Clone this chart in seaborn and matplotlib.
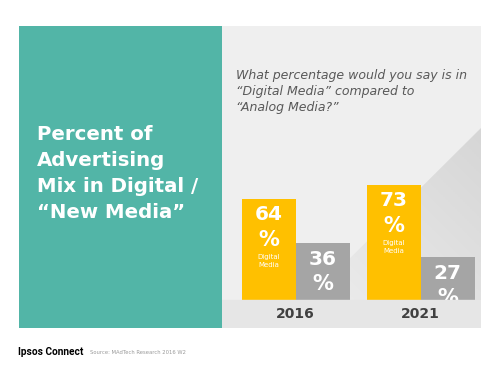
import numpy as np
import pandas as pd
import matplotlib
matplotlib.use("Agg")
import matplotlib.pyplot as plt
from matplotlib.patches import Rectangle, Polygon
import seaborn as sns

# ---- data ----
years = ["2016", "2021"]
digital = [64, 73]
analog = [36, 27]
media = ["Digital", "Analog"]
title_lines = ["Percent of", "Advertising", "Mix in Digital /", "\u201cNew Media\u201d"]
question = "What percentage would you say is in\n\u201cDigital Media\u201d compared to\n\u201cAnalog Media?\u201d"
brand = "Ipsos Connect"
source = "Source: MAdTech Research 2016 W2"

YELLOW = "#FFC000"
GREY = "#A5A5A5"
TEAL = "#52B5A7"

sns.set_theme(style="white")
plt.rcParams["font.family"] = ["DejaVu Sans"]

W, H = 500, 375
fig = plt.figure(figsize=(5, 3.75), dpi=100)
fig.patch.set_facecolor("white")

def fx(x):
    return x / W

def fy(y):
    return 1 - y / H

# teal panel
fig.add_artist(Rectangle((fx(19), fy(328)), fx(222) - fx(19), fy(26) - fy(328),
                         transform=fig.transFigure, facecolor=TEAL, edgecolor="none", zorder=-1))
for i, line in enumerate(title_lines):
    fig.text(fx(37), fy(135 + i * 26), line, color="white", fontsize=14.2,
             fontweight="bold", ha="left", va="center")

# bar axes (grey panel)
ax = fig.add_axes([fx(222), fy(328), fx(481) - fx(222), fy(26) - fy(328)])
ax.set_facecolor("#EFEFEF")
pxu = 1.58
ybot = -(328 - 300) / pxu
ytop = (300 - 26) / pxu
xl = (222 - 295.5) / 125
xr = (481 - 295.5) / 125

df = pd.DataFrame({
    "Year": years * 2,
    "Media": [media[0]] * len(years) + [media[1]] * len(years),
    "Value": digital + analog,
})
sns.barplot(data=df, x="Year", y="Value", hue="Media", order=years, hue_order=media,
            palette=[YELLOW, GREY], saturation=1, width=0.864, gap=0, ax=ax,
            legend=False, zorder=2, edgecolor="none", linewidth=0)
ax.set_xticks([])
ax.set_yticks([])
ax.set_xlabel("")
ax.set_ylabel("")
for s in ax.spines.values():
    s.set_visible(False)

# shaded triangle in the upper right
def d(px, py):
    return ((px - 295.5) / 125, (300 - py) / pxu)

tri = Polygon([d(481, 128), d(481, 300), d(308, 300)], closed=True,
              transform=ax.transData, facecolor="none", edgecolor="none")
gy, gx = np.mgrid[0:1:100j, 0:1:100j]
grad = 0.5 * gx + 0.5 * gy
img = ax.imshow(grad, extent=[d(308, 0)[0], d(481, 0)[0], 0, d(0, 128)[1]],
                origin="lower", cmap=matplotlib.colors.LinearSegmentedColormap.from_list(
                    "g", ["#EDEDED", "#D6D6D6"]), aspect="auto", zorder=1)
img.set_clip_path(tri)
ax.set_xlim(xl, xr)
ax.set_ylim(ybot, ytop)

# label strip
ax.axhspan(ybot, 0, color="#E6E6E6", zorder=5)
for i, yr in enumerate(years):
    ax.text(i, ybot / 2, yr, ha="center", va="center", fontsize=10,
            fontweight="bold", color="#404040", zorder=6)

# bar labels
for ci, cont in enumerate(ax.containers):
    for bar, val in zip(cont.patches, (digital if ci == 0 else analog)):
        cx = bar.get_x() + bar.get_width() / 2
        top = bar.get_height()
        kw = dict(xycoords="data", textcoords="offset pixels", ha="center", va="center",
                  color="white", fontweight="bold", zorder=4, annotation_clip=False)
        ax.annotate(f"{val}", (cx, top), xytext=(0, -16), fontsize=14.5, **kw)
        ax.annotate("%", (cx, top), xytext=(0, -41), fontsize=15, **kw)
        if ci == 0:
            kw2 = dict(kw)
            kw2["fontweight"] = "normal"
            ax.annotate("Digital", (cx, top), xytext=(0, -58), fontsize=5, **kw2)
            ax.annotate("Media", (cx, top), xytext=(0, -66), fontsize=5, **kw2)

# question text
fig.text(fx(236), fy(69), question, ha="left", va="top", fontsize=9, style="italic",
         color="#595959", linespacing=1.32)

# footer
fig.text(fx(18), fy(352), brand, ha="left", va="center", fontsize=7.3, fontweight="bold",
         color="black", family=["Roboto", "DejaVu Sans"])
fig.text(fx(90), fy(352), source, ha="left", va="center", fontsize=3.8, color="#9A9A9A")

fig.savefig("out.png", dpi=100)
